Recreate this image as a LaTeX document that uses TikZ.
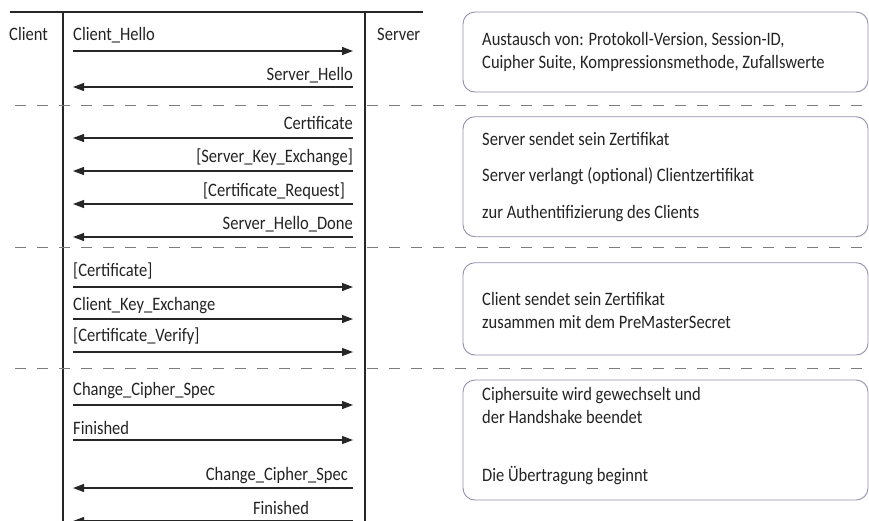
\documentclass[tikz,border=0pt]{standalone}
\usepackage{fontspec}
\setmainfont[FakeStretch=0.87]{Carlito}
\usetikzlibrary{arrows.meta}
\definecolor{boxline}{RGB}{150,140,172}
\definecolor{dashcol}{RGB}{125,125,125}
\definecolor{txt}{RGB}{35,35,35}
\tikzset{
  lbl/.style={inner sep=0pt, font=\fontsize{19}{22}\selectfont, text=txt},
  lblL/.style={lbl, anchor=base west},
  lblR/.style={lbl, anchor=base east},
  msg/.style={line width=1.2pt, draw=black!85, -{Triangle[length=11pt,width=8pt]}},
  life/.style={line width=1.2pt, draw=black!85},
  sep/.style={line width=1pt, draw=dashcol, dash pattern=on 11pt off 11pt},
  infobox/.style={draw=boxline, line width=0.9pt, rounded corners=12pt},
}
\begin{document}
\begin{tikzpicture}[x=1pt,y=-1pt]
\useasboundingbox (0,0) rectangle (869,520);
% lifelines
\coordinate (topL) at (10,12);
\coordinate (topR) at (423,12);
\draw[life] (topL) -- (topR);
\coordinate (cTop) at (63,12);
\coordinate (cBot) at (63,530);
\coordinate (sTop) at (365,12);
\coordinate (sBot) at (365,530);
\draw[life] (cTop) -- (cBot);
\draw[life] (sTop) -- (sBot);
\node[lblL] (client) at (9,40.7) {Client};
\node[lblL] (server) at (377,40.7) {Server};
% separators
\foreach \y/\n in {105/a,247/b,368/c}{
  \coordinate (d\n1) at (15,\y);
  \coordinate (d\n2) at (869,\y);
  \draw[sep] (d\n1) -- (d\n2);
}
% messages
\foreach \n/\y in {1/51,2/87,3/138,4/171,5/204,6/237,7/287,8/319,9/352,10/405,11/440,12/488,13/521}{
  \coordinate (c\n) at (73,\y);
  \coordinate (s\n) at (353,\y);
}
\draw[msg] (c1) -- (s1);
\draw[msg] (s2) -- (c2);
\draw[msg] (s3) -- (c3);
\draw[msg] (s4) -- (c4);
\draw[msg] (s5) -- (c5);
\draw[msg] (s6) -- (c6);
\draw[msg] (c7) -- (s7);
\draw[msg] (c8) -- (s8);
\draw[msg] (c9) -- (s9);
\draw[msg] (c10) -- (s10);
\draw[msg] (c11) -- (s11);
\draw[msg] (s12) -- (c12);
\draw[msg] (s13) -- (c13);
% message labels
\node[lblL] (m1) at (73,40.7) {Client\_Hello};
\node[lblR] (m2) at (353,80) {Server\_Hello};
\node[lblR] (m3) at (353,129.3) {Certificate};
\node[lblR] (m4) at (353,162.7) {[Server\_Key\_Exchange]};
\node[lblR] (m5) at (345,196.7) {[Certificate\_Request]};
\node[lblR] (m6) at (353,229) {Server\_Hello\_Done};
\node[lblL] (m7) at (73,276.7) {[Certificate]};
\node[lblL] (m8) at (73,310) {Client\_Key\_Exchange};
\node[lblL] (m9) at (73,341.7) {[Certificate\_Verify]};
\node[lblL] (m10) at (73,395) {Change\_Cipher\_Spec};
\node[lblL] (m11) at (73,434) {Finished};
\node[lblR] (m12) at (348,480.7) {Change\_Cipher\_Spec};
\node[lbl, anchor=base] (m13) at (281,514) {Finished};
% info boxes
\draw[infobox] (463,12) rectangle (868,92);
\draw[infobox] (463,116.7) rectangle (868,236.7);
\draw[infobox] (463,262.7) rectangle (868,355);
\draw[infobox] (463,380) rectangle (868,500);
\node[lblL] (b1a) at (482,45) {Austausch von: Protokoll-Version, Session-ID,};
\node[lblL] (b1b) at (482,68) {Cuipher Suite, Kompressionsmethode, Zufallswerte};
\node[lblL] (b2a) at (482,145) {Server sendet sein Zertifikat};
\node[lblL] (b2b) at (482,181.7) {Server verlangt (optional) Clientzertifikat};
\node[lblL] (b2c) at (482,218) {zur Authentifizierung des Clients};
\node[lblL] (b3a) at (482,305) {Client sendet sein Zertifikat};
\node[lblL] (b3b) at (482,328) {zusammen mit dem PreMasterSecret};
\node[lblL] (b4a) at (482,400.7) {Ciphersuite wird gewechselt und};
\node[lblL] (b4b) at (482,423) {der Handshake beendet};
\node[lblL] (b4c) at (482,481.7) {Die Übertragung beginnt};
\end{tikzpicture}
\end{document}
